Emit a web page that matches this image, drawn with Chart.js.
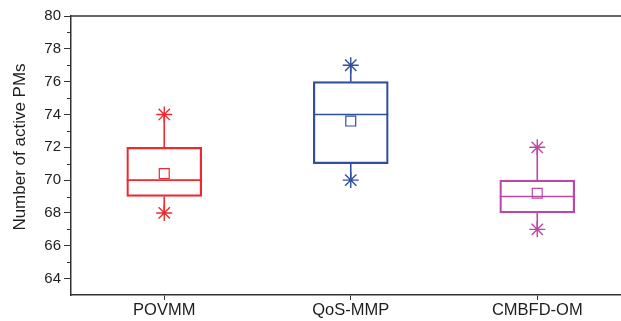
<!DOCTYPE html>
<html>
<head>
<meta charset="utf-8">
<script src="https://cdn.jsdelivr.net/npm/chart.js@4"></script>
<style>
  html, body { margin: 0; padding: 0; background: #fff; overflow: hidden; }
  #wrap { width: 621px; height: 321px; }
  canvas { display: block; }
</style>
</head>
<body>
<div id="wrap"><canvas id="boxChart"></canvas></div>
<script>
// box plot values
const categories = ['POVMM', 'QoS-MMP', 'CMBFD-OM'];
const q1 = [69, 71, 68];
const q3 = [72, 76, 70];
const medians = [70, 74, 69];
const means = [70.4, 73.6, 69.2];
const mins = [68, 70, 67];
const maxs = [74, 77, 72];
const colors = ['#ec2a30', '#304f9e', '#bb48a6'];
const yTitle = 'Number of active PMs';

const axisColor = '#333';
const textColor = '#1e1e1e';

// whiskers, medians, minor ticks, top frame, y title
const boxExtras = {
  id: 'boxExtras',
  beforeDatasetsDraw(chart) {
    const ctx = chart.ctx;
    const x = chart.scales.x, y = chart.scales.y;
    ctx.save();
    ctx.lineWidth = 1.6;
    categories.forEach((c, i) => {
      const px = x.getPixelForValue(i);
      ctx.strokeStyle = colors[i];
      ctx.beginPath();
      ctx.moveTo(px, y.getPixelForValue(q3[i]));
      ctx.lineTo(px, y.getPixelForValue(maxs[i]));
      ctx.moveTo(px, y.getPixelForValue(q1[i]));
      ctx.lineTo(px, y.getPixelForValue(mins[i]));
      ctx.moveTo(px - 37.5, y.getPixelForValue(medians[i]));
      ctx.lineTo(px + 37.5, y.getPixelForValue(medians[i]));
      ctx.stroke();
    });
    ctx.restore();
  },
  afterDraw(chart) {
    const ctx = chart.ctx;
    const y = chart.scales.y;
    const area = chart.chartArea;
    ctx.save();
    ctx.strokeStyle = axisColor;
    ctx.lineWidth = 1;
    ctx.beginPath();
    for (let v = 65; v < 80; v += 2) {
      const py = Math.round(y.getPixelForValue(v)) + 0.5;
      ctx.moveTo(area.left - 4, py);
      ctx.lineTo(area.left, py);
    }
    ctx.stroke();
    ctx.lineWidth = 1.5;
    ctx.beginPath();
    ctx.moveTo(area.left, area.top);
    ctx.lineTo(area.right, area.top);
    ctx.stroke();

    ctx.fillStyle = textColor;
    ctx.font = '17px "Liberation Sans", Arial, sans-serif';
    ctx.textAlign = 'center';
    ctx.textBaseline = 'middle';
    ctx.translate(20, 147);
    ctx.rotate(-Math.PI / 2);
    ctx.fillText(yTitle, 0, 0);
    ctx.restore();
  }
};

const ctx = document.getElementById('boxChart').getContext('2d');
const chart = new Chart(ctx, {
  type: 'bar',
  data: {
    datasets: [
      {
        type: 'bar',
        data: categories.map((c, i) => ({ x: i, y: [q1[i], q3[i]] })),
        backgroundColor: 'rgba(0,0,0,0)',
        borderColor: colors,
        borderWidth: 1.6,
        borderSkipped: false,
        barThickness: 75,
        order: 2
      },
      {
        type: 'scatter',
        data: categories.flatMap((c, i) => [{ x: i, y: mins[i] }, { x: i, y: maxs[i] }]),
        pointStyle: 'star',
        pointRadius: 8,
        borderColor: categories.flatMap((c, i) => [colors[i], colors[i]]),
        borderWidth: 1.4,
        order: 1
      },
      {
        type: 'scatter',
        data: categories.map((c, i) => ({ x: i, y: means[i] })),
        pointStyle: 'rect',
        pointRadius: 7,
        backgroundColor: 'rgba(0,0,0,0)',
        borderColor: colors,
        borderWidth: 1.2,
        order: 0
      }
    ]
  },
  options: {
    responsive: true,
    maintainAspectRatio: false,
    animation: false,
    events: [],
    layout: { autoPadding: false, padding: { top: 16, right: 0, bottom: 0, left: 0 } },
    plugins: { legend: { display: false }, tooltip: { enabled: false } },
    scales: {
      x: {
        type: 'linear',
        min: -0.5,
        max: 2.449,
        offset: false,
        afterBuildTicks: s => { s.ticks = categories.map((c, i) => ({ value: i })); },
        afterFit: s => { s.height = 26; s.paddingLeft = 0; s.paddingRight = 0; },
        ticks: {
          autoSkip: false,
          maxRotation: 0,
          padding: 1,
          color: textColor,
          font: { family: '"Liberation Sans", Arial, sans-serif', size: 16.5 },
          callback: v => categories[v]
        },
        grid: { drawOnChartArea: false, offset: false, tickLength: 5, color: axisColor, tickWidth: 1 },
        border: { color: axisColor, width: 1.5 }
      },
      y: {
        min: 63,
        max: 80,
        afterFit: s => { s.width = 71; s.paddingTop = 0; s.paddingBottom = 0; },
        ticks: {
          stepSize: 1,
          autoSkip: false,
          padding: 3,
          color: textColor,
          font: { family: '"Liberation Sans", Arial, sans-serif', size: 15 },
          callback: v => (v % 2 === 0 ? v : '')
        },
        grid: {
          drawOnChartArea: false,
          tickLength: 7,
          tickWidth: 1,
          tickColor: c => (c.tick && c.tick.value % 2 === 0 ? axisColor : 'rgba(0,0,0,0)')
        },
        border: { color: axisColor, width: 1.5 }
      }
    }
  },
  plugins: [boxExtras]
});
</script>
</body>
</html>
